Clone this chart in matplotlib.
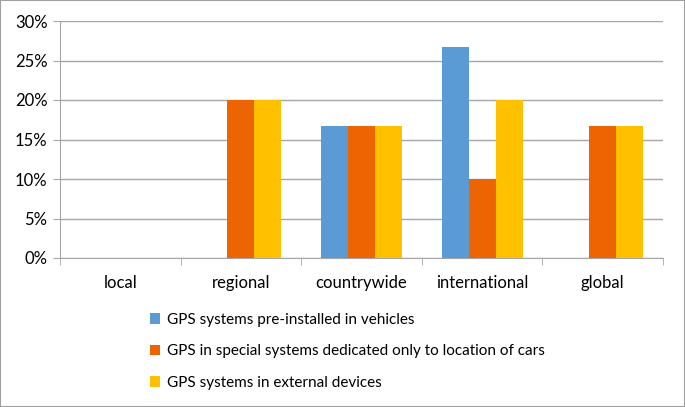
import numpy as np
import matplotlib.pyplot as plt
from matplotlib.patches import Rectangle

categories = ['local', 'regional', 'countrywide', 'international', 'global']
preinstalled = [0, 0, 16.67, 26.67, 0]
special = [0, 20, 16.67, 10, 16.67]
external = [0, 20, 16.67, 20, 16.67]
labels = ['GPS systems pre-installed in vehicles',
          'GPS in special systems dedicated only to location of cars',
          'GPS systems in external devices']
colors = ['#5b9bd5', '#ed6503', '#ffc000']

plt.rcParams['font.family'] = ['Lato', 'DejaVu Sans']

fig = plt.figure(figsize=(6.85, 4.07), dpi=100)
ax = fig.add_axes([60/685, 1 - 258/407, 603/685, 237/407])

x = np.arange(len(categories))
w = 0.224
bars = []
for k, vals in enumerate([preinstalled, special, external]):
    b = ax.bar(x + (k - 1) * w, vals, w, color=colors[k], label=labels[k], zorder=3)
    bars.append(b)

ax.set_xlim(-0.5, len(categories) - 0.5)
ax.set_ylim(0, 30)
ax.set_yticks(range(0, 31, 5))
ax.set_yticklabels([f'{v}%' for v in range(0, 31, 5)], fontsize=12)
ax.set_xticks(x)
ax.set_xticklabels(categories, fontsize=12)
ax.set_xticks(np.arange(-0.5, len(categories)), minor=True)
ax.tick_params(axis='x', which='major', length=0, pad=12)
ax.tick_params(axis='x', which='minor', length=5, color='#a6a6a6')
ax.tick_params(axis='y', length=5, color='#a6a6a6', pad=4)
ax.grid(axis='y', color='#a6a6a6', linewidth=1, zorder=0)
for s in ['top', 'right']:
    ax.spines[s].set_visible(False)
for s in ['left', 'bottom']:
    ax.spines[s].set_color('#a6a6a6')

fig.legend(handles=bars, labels=labels, loc='upper left',
           bbox_to_anchor=(136/685, 1 - 299/407), frameon=False,
           fontsize=11, handlelength=0.7, handleheight=0.7,
           handletextpad=0.4, labelspacing=1.15)

fig.patches.append(Rectangle((0, 0), 1, 1, transform=fig.transFigure,
                             fill=False, edgecolor='#a0a0a0', linewidth=1.5))

plt.savefig('out.png', dpi=100)
